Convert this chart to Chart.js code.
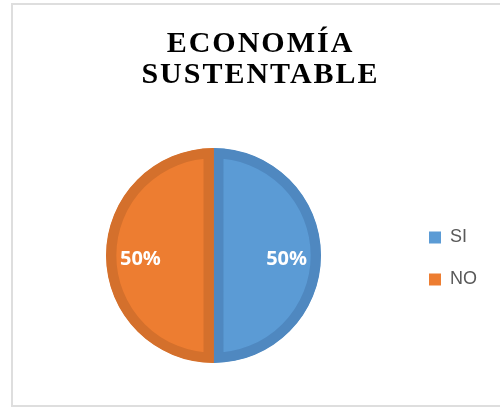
<!DOCTYPE html>
<html>
<head>
<meta charset="utf-8">
<script src="https://cdn.jsdelivr.net/npm/chart.js@4.4.1/dist/chart.umd.min.js"></script>
<style>
  html, body { margin: 0; padding: 0; background: #ffffff; overflow: hidden; width: 500px; height: 411px; }
  #frame { position: absolute; left: 11px; top: 3px; width: 500px; height: 404px; border: 2px solid #dedede; box-sizing: border-box; }
  #wrap { position: absolute; left: 0; top: 0; width: 500px; height: 411px; }
</style>
</head>
<body>
<div id="frame"></div>
<div id="wrap"><canvas id="c" width="500" height="411"></canvas></div>
<script>
const titleLines = ['ECONOMÍA', 'SUSTENTABLE'];
const categories = ['SI', 'NO'];
const values = [50, 50];
const fillColors = ['#5B9BD5', '#ED7D31'];
const borderColors = ['#4F88C0', '#D4702C'];

const pctLabels = {
  id: 'pctLabels',
  afterDatasetsDraw(chart) {
    const ctx = chart.ctx;
    const meta = chart.getDatasetMeta(0);
    const data = chart.data.datasets[0].data;
    const total = data.reduce((a, b) => a + b, 0);
    ctx.save();
    ctx.font = 'bold 20px "Open Sans"';
    ctx.fillStyle = '#ffffff';
    ctx.textAlign = 'center';
    ctx.textBaseline = 'middle';
    meta.data.forEach((arc, i) => {
      const p = arc.getProps(['x', 'y', 'startAngle', 'endAngle', 'outerRadius'], true);
      const mid = (p.startAngle + p.endAngle) / 2;
      const r = p.outerRadius * 0.68;
      const x = p.x + Math.cos(mid) * r;
      const y = p.y + Math.sin(mid) * r + 4;
      ctx.fillText(Math.round(data[i] / total * 100) + '%', x, y);
    });
    ctx.restore();
  }
};

// Title is drawn slightly letter-spaced and nudged right, as in the reference.
const titleStyle = {
  id: 'titleStyle',
  afterLayout(chart) {
    const tb = chart.titleBlock;
    if (!tb || tb._styled) return;
    const orig = tb.draw.bind(tb);
    tb.draw = function () {
      const ctx = chart.ctx;
      ctx.save();
      ctx.letterSpacing = '2px';
      ctx.translate(6, 0);
      orig();
      ctx.restore();
    };
    tb._styled = true;
  }
};

new Chart(document.getElementById('c'), {
  type: 'pie',
  data: {
    labels: categories,
    datasets: [{
      data: values,
      backgroundColor: fillColors,
      borderColor: borderColors,
      borderWidth: 10,
      borderAlign: 'inner',
      hoverOffset: 0
    }]
  },
  options: {
    responsive: false,
    animation: false,
    radius: 107.5,
    layout: { padding: { left: 22, right: 13, top: 0, bottom: 48 } },
    plugins: {
      tooltip: { enabled: false },
      title: {
        display: true,
        text: titleLines,
        color: '#000000',
        font: { family: '"Liberation Serif", "Times New Roman", serif', size: 30, weight: 'bold', lineHeight: 31 / 30 },
        padding: { top: 29, bottom: 57 }
      },
      legend: {
        position: 'right',
        fullSize: false,
        title: { display: true, text: '', font: { size: 1, lineHeight: 1 }, padding: { top: 5, bottom: 0 } },
        labels: {
          boxWidth: 12,
          boxHeight: 12,
          padding: 24,
          color: '#595959',
          font: { family: '"Liberation Sans", Arial, sans-serif', size: 18 },
          generateLabels(chart) {
            const ds = chart.data.datasets[0];
            return chart.data.labels.map((label, i) => ({
              text: label,
              fillStyle: ds.backgroundColor[i],
              strokeStyle: 'rgba(0,0,0,0)',
              lineWidth: 0,
              fontColor: '#595959',
              hidden: false,
              index: i
            }));
          }
        }
      }
    }
  },
  plugins: [pctLabels, titleStyle]
});
</script>
</body>
</html>
